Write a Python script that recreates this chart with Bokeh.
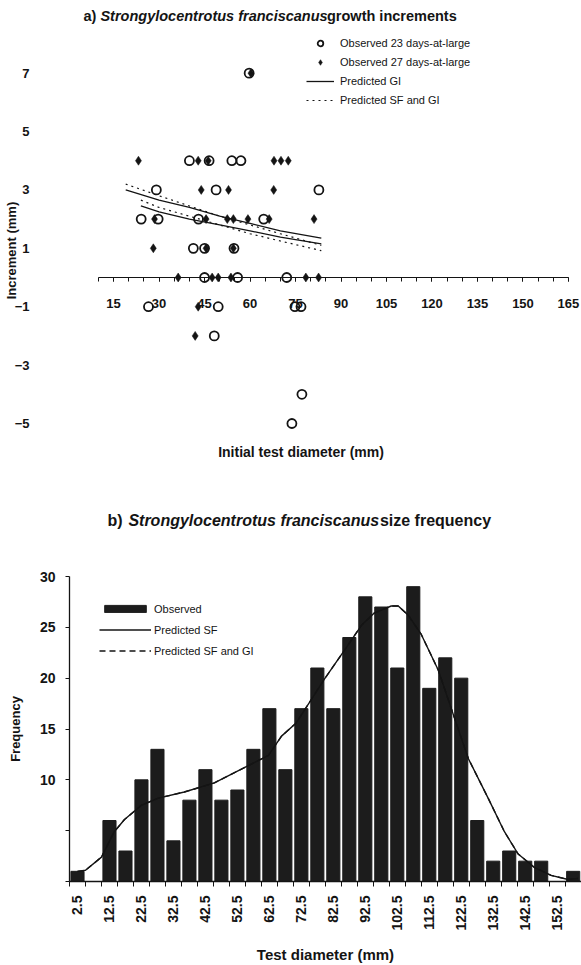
import numpy as np
from bokeh.plotting import figure
from bokeh.models import Range1d, FixedTicker, Legend, LegendItem, Label
from bokeh.layouts import column
from bokeh.embed import file_html
from bokeh.resources import INLINE
from bokeh.core.properties import value

FONT = "Liberation Sans"
INK = "#141414"

# ---------------- a) growth increments ----------------
obs23_x = [59.7, 40.0, 46.5, 54.0, 57.0, 29.1, 48.8, 82.7, 24.1, 29.7, 43.0, 64.5,
           41.3, 45.0, 54.7, 45.0, 55.9, 72.1, 26.5, 49.5, 74.8, 76.8, 48.2, 77.1, 73.8]
obs23_y = [7, 4, 4, 4, 4, 3, 3, 3, 2, 2, 2, 2,
           1, 1, 1, 0, 0, 0, -1, -1, -1, -1, -2, -4, -5]
obs27_x = [60.3, 23.2, 42.9, 46.2, 67.9, 70.2, 72.6, 43.9, 52.9, 67.8,
           28.5, 45.5, 52.5, 54.5, 59.3, 66.3, 81.1, 28.1, 45.5, 54.5,
           36.3, 47.5, 49.5, 53.7, 78.4, 82.6, 42.9, 41.9]
obs27_y = [7, 4, 4, 4, 4, 4, 4, 3, 3, 3,
           2, 2, 2, 2, 2, 2, 2, 1, 1, 1,
           0, 0, 0, 0, 0, 0, -1, -2]
gi_a_x = [19, 30, 40, 50, 60, 70, 83.5]
gi_a_y = [3.0, 2.65, 2.4, 2.1, 1.85, 1.6, 1.35]
gi_b_x = [24, 30, 40, 50, 60, 70, 83.5]
gi_b_y = [2.45, 2.25, 2.0, 1.8, 1.6, 1.38, 1.15]
sfgi_a_x = [19, 30, 40, 50, 60, 70, 83.5]
sfgi_a_y = [3.2, 2.8, 2.45, 2.1, 1.8, 1.5, 1.1]
sfgi_b_x = [24, 30, 40, 50, 60, 70, 83.5]
sfgi_b_y = [2.65, 2.4, 2.1, 1.8, 1.5, 1.25, 0.92]
inc_ticks = [-5, -3, -1, 1, 3, 5, 7]
diam_ticks = [15, 30, 45, 60, 75, 90, 105, 120, 135, 150, 165]
diam_minor = [10, 15, 20, 25, 30, 35, 40, 45, 50, 55, 60, 65, 70, 75, 80, 85, 90, 95,
              100, 105, 110, 115, 120, 125, 130, 135, 140, 145, 150, 155, 160, 165]
diam_axis_span = [10, 165]

# ---------------- b) size frequency ----------------
size_bins = [2.5, 7.5, 12.5, 17.5, 22.5, 27.5, 32.5, 37.5, 42.5, 47.5, 52.5, 57.5,
             62.5, 67.5, 72.5, 77.5, 82.5, 87.5, 92.5, 97.5, 102.5, 107.5, 112.5,
             117.5, 122.5, 127.5, 132.5, 137.5, 142.5, 147.5, 152.5, 157.5]
freq = [1, 0, 6, 3, 10, 13, 4, 8, 11, 8, 9, 13,
        17, 11, 17, 21, 17, 24, 28, 27, 21, 29, 19,
        22, 20, 6, 2, 3, 2, 2, 0, 1]
sf_x = [2.5, 5, 10, 14, 17.2, 22.5, 27.8, 35.9, 45.3, 55.9, 62.2, 66.3, 70.9, 75.6,
        79.7, 85.9, 91.3, 95.3, 100.6, 102.8, 105.9, 110, 115.3, 120.9, 124.7,
        130.9, 136, 140.3, 145.3, 150.6, 155.9, 159]
sf_y = [1.0, 1.1, 2.4, 4.9, 6.1, 7.5, 8.2, 8.8, 9.7, 11.4, 12.4, 14.3, 15.6, 17.9,
        19.9, 22.7, 25.2, 26.4, 27.1, 27.1, 26.2, 24.3, 20.8, 15.6, 12.1,
        8.2, 4.9, 2.7, 1.4, 0.6, 0.2, 0.3]
sfgi_x = list(sf_x)
sfgi_y = list(sf_y)
size_label_ticks = [2.5, 12.5, 22.5, 32.5, 42.5, 52.5, 62.5, 72.5, 82.5, 92.5,
                    102.5, 112.5, 122.5, 132.5, 142.5, 152.5]
size_minor = [0, 5, 10, 15, 20, 25, 30, 35, 40, 45, 50, 55, 60, 65, 70, 75, 80, 85,
              90, 95, 100, 105, 110, 115, 120, 125, 130, 135, 140, 145, 150, 155, 160]
freq_ticks = [0, 5, 10, 15, 20, 25, 30]

LEFT = 68  # common frame left edge of all stacked figures


def base_style(p):
    p.outline_line_color = None
    p.xgrid.visible = False
    p.ygrid.visible = False
    p.background_fill_color = "white"
    p.border_fill_color = "white"


def title_fig(h, pieces, yc, size):
    t = figure(width=581, height=h, x_range=Range1d(LEFT, 581), y_range=Range1d(h, 0),
               output_backend="svg", toolbar_location=None,
               x_axis_location=None, y_axis_location=None,
               min_border_left=LEFT, min_border_right=0, min_border_top=0, min_border_bottom=0)
    base_style(t)
    for px, txt, st in pieces:
        t.text(x=[px], y=[yc], text=[txt], text_font=value(FONT),
               text_font_style=value(st), text_font_size=value(size),
               text_baseline=value("middle"), text_align=value("left"), text_color=INK)
    return t


# ================= title a =================
ta = title_fig(30, [(82, "a)", "bold"),
                    (99, "Strongylocentrotus franciscanus", "bold italic"),
                    (326, "growth increments", "bold")], 15, "14.5px")

# ================= top figure =================
p1 = figure(width=581, height=475, x_range=Range1d(0.46, 169.3), y_range=Range1d(-6.61, 8.46),
            output_backend="svg", toolbar_location=None,
            min_border_left=LEFT, min_border_right=0, min_border_top=0, min_border_bottom=35)
base_style(p1)

xa = p1.xaxis[0]
xa.fixed_location = 0
xa.ticker = FixedTicker(ticks=diam_ticks, minor_ticks=diam_minor)
xa.axis_line_color = None
xa.major_tick_in = 0
xa.major_tick_out = 4
xa.minor_tick_in = 0
xa.minor_tick_out = 4
xa.major_tick_line_color = INK
xa.minor_tick_line_color = INK
xa.major_label_standoff = 17
xa.major_label_text_font = FONT
xa.major_label_text_font_style = "bold"
xa.major_label_text_font_size = "13px"
xa.major_label_text_color = INK
p1.line(diam_axis_span, [0, 0], line_color=INK, line_width=1.2)

ya = p1.yaxis[0]
ya.ticker = FixedTicker(ticks=inc_ticks)
ya.axis_line_color = None
ya.major_tick_line_color = None
ya.minor_tick_line_color = None
ya.major_tick_out = 0
ya.major_tick_in = 0
ya.minor_tick_out = 0
ya.minor_tick_in = 0
ya.major_label_standoff = 40
ya.major_label_text_font = FONT
ya.major_label_text_font_style = "bold"
ya.major_label_text_font_size = "13px"
ya.major_label_text_color = INK
ya.axis_label = "Increment (mm)"
ya.axis_label_standoff = -7
ya.axis_label_text_font = FONT
ya.axis_label_text_font_style = "bold"
ya.axis_label_text_font_size = "13px"
ya.axis_label_text_color = INK

r_gi1 = p1.line(gi_a_x, gi_a_y, line_color=INK, line_width=1.3)
r_gi2 = p1.line(gi_b_x, gi_b_y, line_color=INK, line_width=1.3)
r_sg1 = p1.line(sfgi_a_x, sfgi_a_y, line_color=INK, line_width=1.2, line_dash="2 4")
r_sg2 = p1.line(sfgi_b_x, sfgi_b_y, line_color=INK, line_width=1.2, line_dash="2 4")
r_o23 = p1.scatter(obs23_x, obs23_y, marker="circle", size=9, fill_color="white",
                   fill_alpha=0, line_color=INK, line_width=1.8)
r_o27 = p1.scatter(obs27_x, obs27_y, marker="diamond", size=9, fill_color=INK,
                   line_color=INK, line_width=0.5)

leg1 = Legend(items=[
    LegendItem(label="Observed 23 days-at-large", renderers=[r_o23]),
    LegendItem(label="Observed 27 days-at-large", renderers=[r_o27]),
    LegendItem(label="Predicted GI", renderers=[r_gi1]),
    LegendItem(label="Predicted SF and GI", renderers=[r_sg1]),
], location=(237, 363))
leg1.border_line_color = None
leg1.background_fill_alpha = 0
leg1.padding = 0
leg1.margin = 0
leg1.spacing = 5
leg1.glyph_width = 28
leg1.glyph_height = 14
leg1.label_height = 14
leg1.label_standoff = 6
leg1.label_text_font = FONT
leg1.label_text_font_size = "11px"
leg1.label_text_color = INK
p1.add_layout(leg1)

p1.add_layout(Label(x=76.8, y=-5.99, text="Initial test diameter (mm)", text_font=FONT,
                    text_font_style="bold", text_font_size="14px", text_baseline="middle",
                    text_align="center", text_color=INK))

# ================= title b =================
tb = title_fig(61, [(106, "b)", "bold"),
                    (127, "Strongylocentrotus franciscanus", "bold italic"),
                    (379, "size frequency", "bold")], 15, "16px")

# ================= bottom figure =================
p2 = figure(width=581, height=399, x_range=Range1d(0, 160.1), y_range=Range1d(0, 30),
            output_backend="svg", toolbar_location=None,
            min_border_left=LEFT, min_border_right=0, min_border_top=10, min_border_bottom=77)
base_style(p2)

r_bar = p2.vbar(x=size_bins, top=freq, width=4.1, fill_color="#1c1c1c", line_color="#1c1c1c")
r_sf = p2.line(sf_x, sf_y, line_color=INK, line_width=1.4)
r_sfgi = p2.line(sfgi_x, sfgi_y, line_color=INK, line_width=1.4, line_dash="6 4")

xb = p2.xaxis[0]
xb.ticker = FixedTicker(ticks=size_label_ticks, minor_ticks=size_minor)
xb.major_label_overrides = {t: str(t) for t in size_label_ticks}
xb.axis_line_color = INK
xb.axis_line_width = 1.3
xb.major_tick_in = 0
xb.major_tick_out = 0
xb.minor_tick_in = 0
xb.minor_tick_out = 5
xb.minor_tick_line_color = INK
xb.major_label_orientation = np.pi / 2
xb.major_label_standoff = 9
xb.major_label_text_font = FONT
xb.major_label_text_font_style = "bold"
xb.major_label_text_font_size = "14px"
xb.major_label_text_color = INK
xb.axis_label = "Test diameter (mm)"
xb.axis_label_standoff = 12
xb.axis_label_text_font = FONT
xb.axis_label_text_font_style = "bold"
xb.axis_label_text_font_size = "15px"
xb.axis_label_text_color = INK

yb = p2.yaxis[0]
yb.ticker = FixedTicker(ticks=freq_ticks)
yb.major_label_overrides = {0: "", 5: ""}
yb.axis_line_color = INK
yb.axis_line_width = 1.3
yb.major_tick_in = 0
yb.major_tick_out = 4
yb.major_tick_line_color = INK
yb.minor_tick_line_color = None
yb.major_label_standoff = 10
yb.major_label_text_font = FONT
yb.major_label_text_font_style = "bold"
yb.major_label_text_font_size = "14px"
yb.major_label_text_color = INK
yb.axis_label = "Frequency"
yb.axis_label_standoff = 14
yb.axis_label_text_font = FONT
yb.axis_label_text_font_style = "bold"
yb.axis_label_text_font_size = "13px"
yb.axis_label_text_color = INK

leg2 = Legend(items=[
    LegendItem(label="Observed", renderers=[r_bar]),
    LegendItem(label="Predicted SF", renderers=[r_sf]),
    LegendItem(label="Predicted SF and GI", renderers=[r_sfgi]),
], location=(30, 223))
leg2.border_line_color = None
leg2.background_fill_alpha = 0
leg2.padding = 0
leg2.margin = 0
leg2.spacing = 6
leg2.glyph_width = 52
leg2.glyph_height = 9
leg2.label_height = 15
leg2.label_standoff = 3
leg2.label_text_font = FONT
leg2.label_text_font_size = "11px"
leg2.label_text_color = INK
p2.add_layout(leg2)

layout = column(ta, p1, tb, p2, spacing=0)
open("out.html", "w").write(file_html(layout, INLINE))
